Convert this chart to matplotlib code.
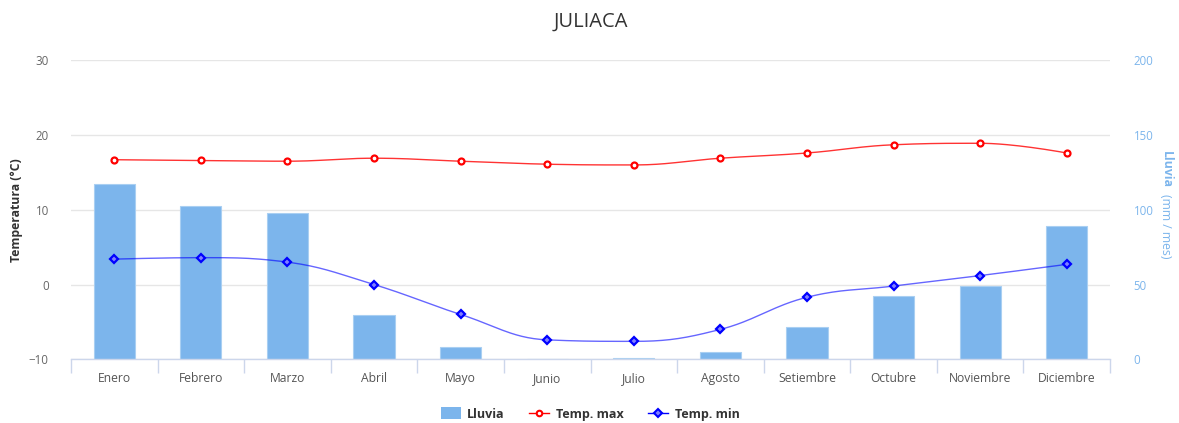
import numpy as np
import matplotlib
matplotlib.use("Agg")
import matplotlib.pyplot as plt
from matplotlib.lines import Line2D
from matplotlib.patches import Patch

plt.rcParams['font.family'] = ['Open Sans', 'DejaVu Sans']

months = ["Enero", "Febrero", "Marzo", "Abril", "Mayo", "Junio", "Julio",
          "Agosto", "Setiembre", "Octubre", "Noviembre", "Diciembre"]
lluvia = [117, 102.7, 97.6, 29.3, 8.5, 0, 1, 4.7, 21.6, 42.2, 48.9, 89.3]
temp_max = [16.7, 16.6, 16.5, 16.9, 16.5, 16.1, 16.0, 16.9, 17.6, 18.7, 18.9, 17.6]
temp_min = [3.4, 3.6, 3.0, 0.0, -4.0, -7.4, -7.6, -6.0, -1.7, -0.2, 1.2, 2.7]
temp_ticks = [-10, 0, 10, 20, 30]
rain_ticks = [0, 50, 100, 150, 200]


def hc_spline(xs, ys, n=30):
    xs = np.asarray(xs, float); ys = np.asarray(ys, float)
    m = len(xs)
    lc = [None] * m; rc = [None] * m
    s = 1.5; d = s + 1
    for i in range(m):
        if 0 < i < m - 1:
            lx = (s * xs[i] + xs[i - 1]) / d; ly = (s * ys[i] + ys[i - 1]) / d
            rx = (s * xs[i] + xs[i + 1]) / d; ry = (s * ys[i] + ys[i + 1]) / d
            if rx != lx:
                corr = ((ry - ly) * (rx - xs[i])) / (rx - lx) + ys[i] - ry
                ly += corr; ry += corr
            py, lasty, nexty = ys[i], ys[i - 1], ys[i + 1]
            if ly > lasty and ly > py:
                ly = max(lasty, py); ry = 2 * py - ly
            elif ly < lasty and ly < py:
                ly = min(lasty, py); ry = 2 * py - ly
            if ry > nexty and ry > py:
                ry = max(nexty, py); ly = 2 * py - ry
            elif ry < nexty and ry < py:
                ry = min(nexty, py); ly = 2 * py - ry
            lc[i] = (lx, ly); rc[i] = (rx, ry)
    X = [xs[0]]; Y = [ys[0]]
    t = np.linspace(0, 1, n)[1:]
    for i in range(m - 1):
        p0 = (xs[i], ys[i]); p3 = (xs[i + 1], ys[i + 1])
        p1 = rc[i] if rc[i] is not None else p0
        p2 = lc[i + 1] if lc[i + 1] is not None else p3
        bx = (1-t)**3*p0[0] + 3*(1-t)**2*t*p1[0] + 3*(1-t)*t**2*p2[0] + t**3*p3[0]
        by = (1-t)**3*p0[1] + 3*(1-t)**2*t*p1[1] + 3*(1-t)*t**2*p2[1] + t**3*p3[1]
        X.extend(bx); Y.extend(by)
    return np.array(X), np.array(Y)


fig = plt.figure(figsize=(11.79, 4.23), dpi=100)
ax = fig.add_axes([71/1179, 1 - 359.3/423, (1110-71)/1179, (359.3-60.3)/423])
ax2 = ax.twinx()

x = np.arange(len(months))
bar_color = '#7cb5ec'
tick_color = '#666666'
rain_label_color = '#7cb5ec'

# bars on right axis (grid drawn here, behind bars)
ax2.set_axisbelow(True)
ax2.bar(x, lluvia, width=0.475, color=bar_color, edgecolor='#a9cff2', linewidth=0.8, zorder=2)
ax2.set_ylim(0, 200)
ax2.set_yticks(rain_ticks)
ax2.yaxis.grid(True, color='#e6e6e6', linewidth=1, zorder=0)
ax2.tick_params(axis='y', length=0, pad=17, labelsize=8.3, labelcolor=rain_label_color)
for s in ax2.spines.values():
    s.set_visible(False)

# temperature on left axis, drawn above bars
ax.set_zorder(ax2.get_zorder() + 1)
ax.patch.set_visible(False)
ax.set_ylim(-10, 30)
ax.set_xlim(-0.5, len(months) - 0.5)
ax.set_yticks(temp_ticks)
ax.tick_params(axis='y', length=0, pad=16, labelsize=8.3, labelcolor=tick_color)
ax.yaxis.grid(False)

sx, sy = hc_spline(x, temp_max)
ax.plot(sx, sy, color='#ff0000', alpha=0.8, linewidth=1.0, zorder=3)
ax.plot(x, temp_max, linestyle='none', marker='o', markersize=4.3,
        markerfacecolor='white', markeredgecolor='#ff0000', markeredgewidth=1.6, zorder=4)
sx, sy = hc_spline(x, temp_min)
ax.plot(sx, sy, color='#0000ff', alpha=0.6, linewidth=1.0, zorder=3)
ax.plot(x, temp_min, linestyle='none', marker='D', markersize=4.0,
        markerfacecolor='#8080ff', markeredgecolor='#0000ff', markeredgewidth=1.6, zorder=4)

# x axis
ax.set_xticks(x)
ax.set_xticklabels(months)
ax.set_xticks(np.arange(-0.5, len(months), 1), minor=True)
ax.tick_params(axis='x', which='major', length=0, pad=9, labelsize=8.7, labelcolor='#555555')
ax.tick_params(axis='x', which='minor', length=10, color='#ccd6eb', width=1)
for k in ['top', 'left', 'right']:
    ax.spines[k].set_visible(False)
ax.spines['bottom'].set_color('#ccd6eb')
ax.spines['bottom'].set_linewidth(1)
ax2.tick_params(axis='x', length=0)

fig.text(17/1179, 1 - 210/423, 'Temperatura (°C)', rotation=90, ha='center', va='center',
         fontsize=8.8, fontweight='bold', color='#333333')
fig.text(1166/1179, 1 - 151/423, 'Lluvia', rotation=270, ha='center', va='top',
         fontsize=8.8, fontweight='bold', color=rain_label_color)
fig.text(1166/1179, 1 - 194/423, '(mm / mes)', rotation=270, ha='center', va='top',
         fontsize=8.8, color=rain_label_color)

fig.text(591/1179, 1 - 22/423, 'JULIACA', ha='center', va='center', fontsize=14.5, color='#333333')

handles = [Patch(facecolor=bar_color, edgecolor='none'),
           Line2D([], [], color='#ff0000', lw=1, marker='o', markersize=4,
                  markerfacecolor='white', markeredgecolor='#ff0000', markeredgewidth=1.5),
           Line2D([], [], color='#0000ff', lw=1, marker='D', markersize=3.6,
                  markerfacecolor='#8080ff', markeredgecolor='#0000ff', markeredgewidth=1.5)]
leg = fig.legend(handles, ['Lluvia', 'Temp. max', 'Temp. min'], loc='center',
                 bbox_to_anchor=(590/1179, 1 - 414/423), ncol=3, frameon=False,
                 prop={'weight': 'bold', 'size': 9}, handlelength=1.6, handleheight=1.1,
                 columnspacing=2.0, handletextpad=0.5)
for t in leg.get_texts():
    t.set_color('#333333')

fig.savefig('out.png', dpi=100, facecolor='white')
